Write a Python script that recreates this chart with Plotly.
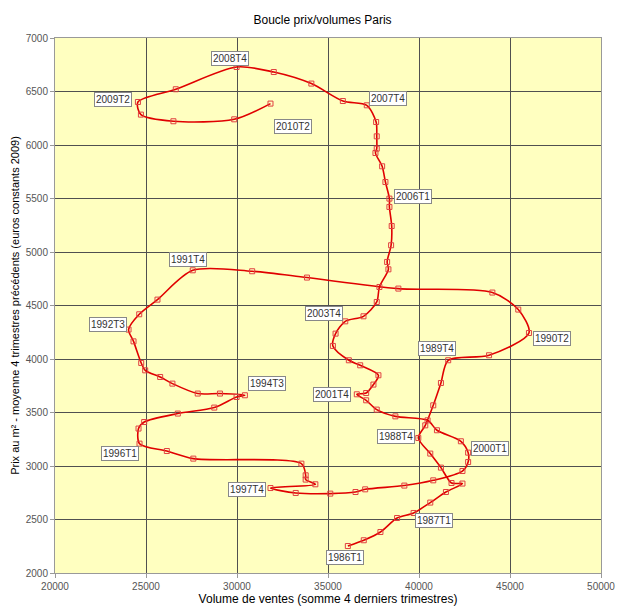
import plotly.graph_objects as go

periods = [f"{y}T{q}" for y in range(1986, 2011) for q in range(1, 5)][:98]

volume = [36090, 36966, 37881, 38795, 39704, 40619, 41479, 42388,
          41786, 41205, 40619, 39962, 40345, 40783, 41205, 41605,
          43850, 46041, 45455, 44031, 38866, 33845, 30833, 27569,
          25630, 24628, 24042, 24315, 24737, 24956, 25778, 26451,
          27842, 29064, 30433, 29978, 28751, 26747, 24901, 24589,
          24644, 26145, 27601, 33538, 33773, 33773, 34305, 31840,
          33226, 35126, 36512, 37043, 39195, 40783, 42388, 42700,
          42700, 42300, 40986, 40471, 38702, 37678, 37097, 36583,
          37097, 37497, 37771, 36769, 36145, 35268, 35416, 35948,
          36950, 37678, 37826, 38319, 38248, 38467, 38500, 38374,
          38374, 38155, 37974, 37607, 37678, 37678, 37645, 37131,
          35816, 34085, 32021, 29978, 26637, 24556, 24721, 26506,
          29847, 31840]

prix = [2252, 2306, 2383, 2514, 2561, 2658, 2757, 2836,
        2841, 2985, 3116, 3262, 3380, 3567, 3776, 3988,
        4035, 4243, 4462, 4621, 4658, 4761, 4820, 4829,
        4555, 4418, 4275, 4165, 3963, 3894, 3832, 3770,
        3677, 3677, 3661, 3645, 3546, 3490, 3411, 3350,
        3209, 3140, 3069, 3022, 2913, 2873, 2829, 2794,
        2748, 2742, 2757, 2782, 2817, 2866, 2953, 3037,
        3125, 3231, 3334, 3427, 3464, 3527, 3614, 3670,
        3682, 3761, 3848, 3941, 3988, 4122, 4237, 4352,
        4399, 4533, 4673, 4838, 4907, 5063, 5243, 5421,
        5499, 5654, 5801, 5925, 5966, 6081, 6215, 6371,
        6411, 6574, 6682, 6729, 6521, 6402, 6284, 6222,
        6240, 6387]

labelled = ["1986T1", "1987T1", "1988T4", "1989T4", "1990T2", "1991T4",
            "1992T3", "1994T3", "1996T1", "1997T4", "2000T1", "2001T4",
            "2003T4", "2006T1", "2007T4", "2008T4", "2009T2", "2010T2"]
label_dx = [-3, 20, -22, -11, 23, -5, -21, 22, -20, -23, 22, -25, -21, 24, 21, -7, -25, 23]
label_dy = [-11, -8, 1, 12, -5, 11, 5, 12, -10, -1, 4, 0, 8, 2, 7, 9, 2, -23]

fig = go.Figure()
fig.add_trace(go.Scatter(
    x=volume, y=prix, mode="lines+markers",
    line=dict(color="#e00000", width=1.6, shape="spline", smoothing=0.8),
    marker=dict(symbol="square-open", size=5, color="#e04040", line=dict(width=1)),
    text=periods, hoverinfo="text+x+y", showlegend=False,
))

for lab, dx, dy in zip(labelled, label_dx, label_dy):
    i = periods.index(lab)
    fig.add_annotation(
        x=volume[i], y=prix[i], text=lab, showarrow=False,
        xshift=dx, yshift=dy,
        font=dict(family="Liberation Sans, Arial, sans-serif", size=10, color="#333"),
        bgcolor="white", bordercolor="#888", borderwidth=1, borderpad=1,
    )

fig.update_layout(
    width=640, height=613,
    margin=dict(l=55, r=39, t=38, b=40, autoexpand=False),
    paper_bgcolor="white", plot_bgcolor="#ffffc0",
    font=dict(family="Liberation Sans, Arial, sans-serif", size=11, color="black"),
    title=dict(text="Boucle prix/volumes Paris", x=0.504, xanchor="center",
               y=1 - 20 / 613, yanchor="middle", yref="container",
               font=dict(size=12, color="black")),
    xaxis=dict(range=[20000, 50000], dtick=5000, tickformat="d",
               showgrid=True, gridcolor="#505050", gridwidth=1, zeroline=False,
               showline=True, linecolor="#999", mirror=True,
               ticks="outside", ticklen=4, tickcolor="#999",
               tickfont=dict(size=10, color="#555"),
               title=dict(text="Volume de ventes (somme 4 derniers trimestres)",
                          standoff=1, font=dict(size=12, color="black"))),
    yaxis=dict(range=[2000, 7000], dtick=500, tickformat="d",
               showgrid=True, gridcolor="#505050", gridwidth=1, zeroline=False,
               showline=True, linecolor="#999", mirror=True,
               ticks="outside", ticklen=4, tickcolor="#999",
               tickfont=dict(size=10, color="#555"),
               title=dict(text="Prix au m² - moyenne 4 trimestres précédents (euros constants 2009)",
                          standoff=3, font=dict(size=11, color="black"))),
)

fig.write_html("out.html")
